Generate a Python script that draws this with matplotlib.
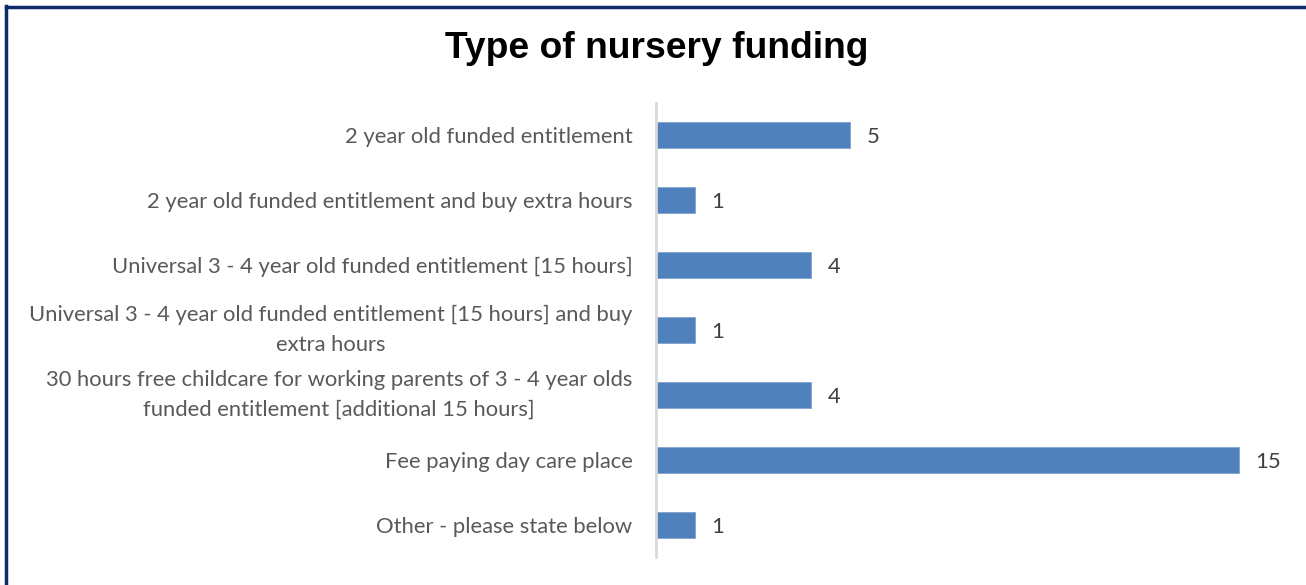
import matplotlib.pyplot as plt
import numpy as np

categories = [
    "2 year old funded entitlement",
    "2 year old funded entitlement and buy extra hours",
    "Universal 3 - 4 year old funded entitlement [15 hours]",
    "Universal 3 - 4 year old funded entitlement [15 hours] and buy\nextra hours",
    "30 hours free childcare for working parents of 3 - 4 year olds\nfunded entitlement [additional 15 hours]",
    "Fee paying day care place",
    "Other - please state below",
]
counts = [5, 1, 4, 1, 4, 15, 1]

W, H = 1306, 585
fig = plt.figure(figsize=(W / 100, H / 100), dpi=100)
ax = fig.add_axes([656 / W, 1 - 557 / H, (1278 - 656) / W, (557 - 103) / H])

y = np.arange(len(categories))
ax.barh(y, counts, height=0.4, color="#4f81bd", edgecolor="#7fa3d0", linewidth=0.6)
ax.set_ylim(len(categories) - 0.5, -0.5)
ax.set_xlim(0, 16)

ax.set_yticks(y)
ax.set_yticklabels(categories, fontsize=15.8, color="#595959", family="Lato",
                   linespacing=1.6, va="center_baseline")
ax.tick_params(axis="y", length=0, pad=17)
for t in ax.get_yticklabels():
    t.set_multialignment("center")
    if "\n" in t.get_text():
        t.set_va("center")
ax.set_xticks([])
for s in ["top", "right", "bottom"]:
    ax.spines[s].set_visible(False)
ax.spines["left"].set_color("#d9d9d9")
ax.spines["left"].set_linewidth(2)

for yi, v in zip(y, counts):
    ax.text(v + 0.42, yi, str(v), va="center_baseline", ha="left", fontsize=15.8,
            color="#404040", family="Lato")

fig.text(657 / W, 1 - 49 / H, "Type of nursery funding", ha="center", va="center",
         fontsize=26.8, fontweight="bold", family="Liberation Sans", color="black")

# dark frame along the top and left edge
fig.add_artist(plt.Line2D([6 / W, 6 / W], [0, 1 - 6 / H], color="#0e2a6b", lw=2.5))
fig.add_artist(plt.Line2D([6 / W, 1], [1 - 7 / H, 1 - 7 / H], color="#0e2a6b", lw=2.5))

fig.savefig("out.png", dpi=100)
